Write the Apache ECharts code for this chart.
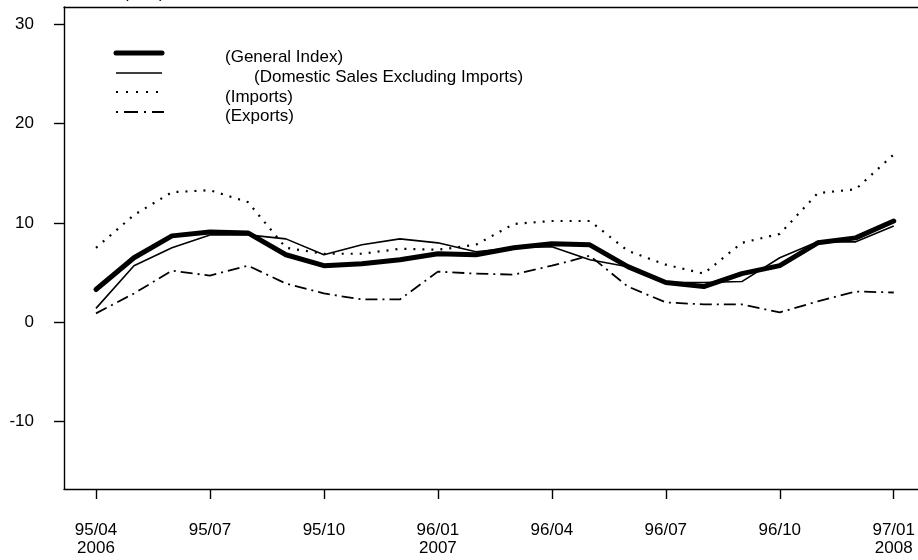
<!DOCTYPE html>
<html>
<head>
<meta charset="utf-8">
<script src="https://cdn.jsdelivr.net/npm/echarts@6/dist/echarts.min.js"></script>
<style>html,body{margin:0;padding:0;background:#fff}#c{width:918px;height:560px}</style>
</head>
<body>
<div id="c"></div>
<script>
const tickPositions = [0, 3, 6, 9, 12, 15, 18, 21];
const tickLabels = ['95/04\n2006', '95/07', '95/10', '96/01\n2007', '96/04', '96/07', '96/10', '97/01\n2008'];
const yTicks = [-10, 0, 10, 20, 30];
const generalIndex = [3.3, 6.5, 8.7, 9.1, 9.0, 6.8, 5.7, 5.9, 6.3, 6.9, 6.8, 7.5, 7.9, 7.8, 5.6, 4.0, 3.6, 4.9, 5.7, 8.0, 8.5, 10.2];
const domestic = [1.4, 5.7, 7.5, 8.8, 8.8, 8.4, 6.8, 7.8, 8.4, 8.0, 7.1, 7.5, 7.6, 6.3, 5.6, 4.0, 4.0, 4.1, 6.5, 8.1, 8.1, 9.7];
const imports = [7.5, 10.8, 13.1, 13.3, 12.1, 7.5, 6.9, 6.9, 7.4, 7.3, 7.8, 9.9, 10.2, 10.2, 7.2, 5.8, 4.9, 8.0, 8.9, 13.0, 13.4, 16.9];
const exportsData = [0.9, 2.9, 5.2, 4.7, 5.7, 3.9, 2.9, 2.3, 2.3, 5.1, 4.9, 4.8, 5.7, 6.7, 3.6, 2.0, 1.8, 1.8, 1.0, 2.1, 3.1, 3.0];
const legendNames = ['(General Index)', '(Domestic Sales Excluding Imports)', '(Imports)', '(Exports)'];
const unitLabel = '(Unit)';

const FONT = '"Liberation Sans", Arial, sans-serif';
const pairs = arr => arr.map((v, i) => [i, v]);
const lblMap = {};
tickPositions.forEach((p, i) => lblMap[p] = tickLabels[i]);

const chart = echarts.init(document.getElementById('c'), null, {renderer: 'canvas'});
const axisLineStyle = {color: '#000', width: 1.4};

chart.setOption({
  animation: false,
  backgroundColor: '#fff',
  grid: {left: 64, top: 7, right: 0, bottom: 71, containLabel: false},
  xAxis: [{
    type: 'value', min: -0.8421, max: 21.6316, position: 'bottom',
    splitLine: {show: false},
    axisLine: {show: true, lineStyle: axisLineStyle, onZero: false},
    axisTick: {show: true, length: 10, lineStyle: axisLineStyle, customValues: tickPositions},
    axisLabel: {
      show: true, customValues: tickPositions, margin: 32,
      color: '#000', fontFamily: FONT, fontSize: 17, lineHeight: 18,
      formatter: v => lblMap[Math.round(v)] || ''
    }
  }, {
    type: 'value', min: -0.8421, max: 21.6316, position: 'top',
    splitLine: {show: false},
    axisLine: {show: true, lineStyle: axisLineStyle, onZero: false},
    axisTick: {show: false}, axisLabel: {show: false}
  }],
  yAxis: {
    type: 'value', min: -16.79, max: 31.75,
    splitLine: {show: false},
    axisLine: {show: true, lineStyle: axisLineStyle, onZero: false},
    axisTick: {show: true, length: 10, lineStyle: axisLineStyle, customValues: yTicks},
    axisLabel: {show: true, customValues: yTicks, margin: 30, color: '#000', fontFamily: FONT, fontSize: 17}
  },
  series: [
    {name: legendNames[3], type: 'line', data: pairs(exportsData), symbol: 'none', silent: true,
     lineStyle: {color: '#000', width: 1.8, type: [12, 5, 2, 5]}},
    {name: legendNames[2], type: 'line', data: pairs(imports), symbol: 'none', silent: true,
     lineStyle: {color: '#000', width: 2.2, type: [2, 7]}},
    {name: legendNames[1], type: 'line', data: pairs(domestic), symbol: 'none', silent: true,
     lineStyle: {color: '#000', width: 1.6}},
    {name: legendNames[0], type: 'line', data: pairs(generalIndex), symbol: 'none', silent: true,
     lineStyle: {color: '#000', width: 5, cap: 'round', join: 'round'}}
  ],
  graphic: [
    {type: 'text', left: 123, top: -15, style: {text: unitLabel, fill: '#000', font: '17px ' + FONT}},
    {type: 'line', shape: {x1: 116, y1: 53, x2: 162, y2: 53}, style: {stroke: '#000', lineWidth: 5, lineCap: 'round'}},
    {type: 'line', shape: {x1: 116, y1: 73, x2: 162, y2: 73}, style: {stroke: '#000', lineWidth: 1.6}},
    {type: 'line', shape: {x1: 116, y1: 92, x2: 164, y2: 92}, style: {stroke: '#000', lineWidth: 2, lineDash: [2, 8]}},
    {type: 'line', shape: {x1: 116, y1: 112, x2: 164, y2: 112}, style: {stroke: '#000', lineWidth: 1.8, lineDash: [2, 6, 14, 6]}},
    {type: 'text', x: 225, y: 57, style: {text: legendNames[0], fill: '#000', font: '17px ' + FONT, textVerticalAlign: 'middle'}},
    {type: 'text', x: 254, y: 77, style: {text: legendNames[1], fill: '#000', font: '17px ' + FONT, textVerticalAlign: 'middle'}},
    {type: 'text', x: 225, y: 97, style: {text: legendNames[2], fill: '#000', font: '17px ' + FONT, textVerticalAlign: 'middle'}},
    {type: 'text', x: 225, y: 116, style: {text: legendNames[3], fill: '#000', font: '17px ' + FONT, textVerticalAlign: 'middle'}}
  ]
});
</script>
</body>
</html>
